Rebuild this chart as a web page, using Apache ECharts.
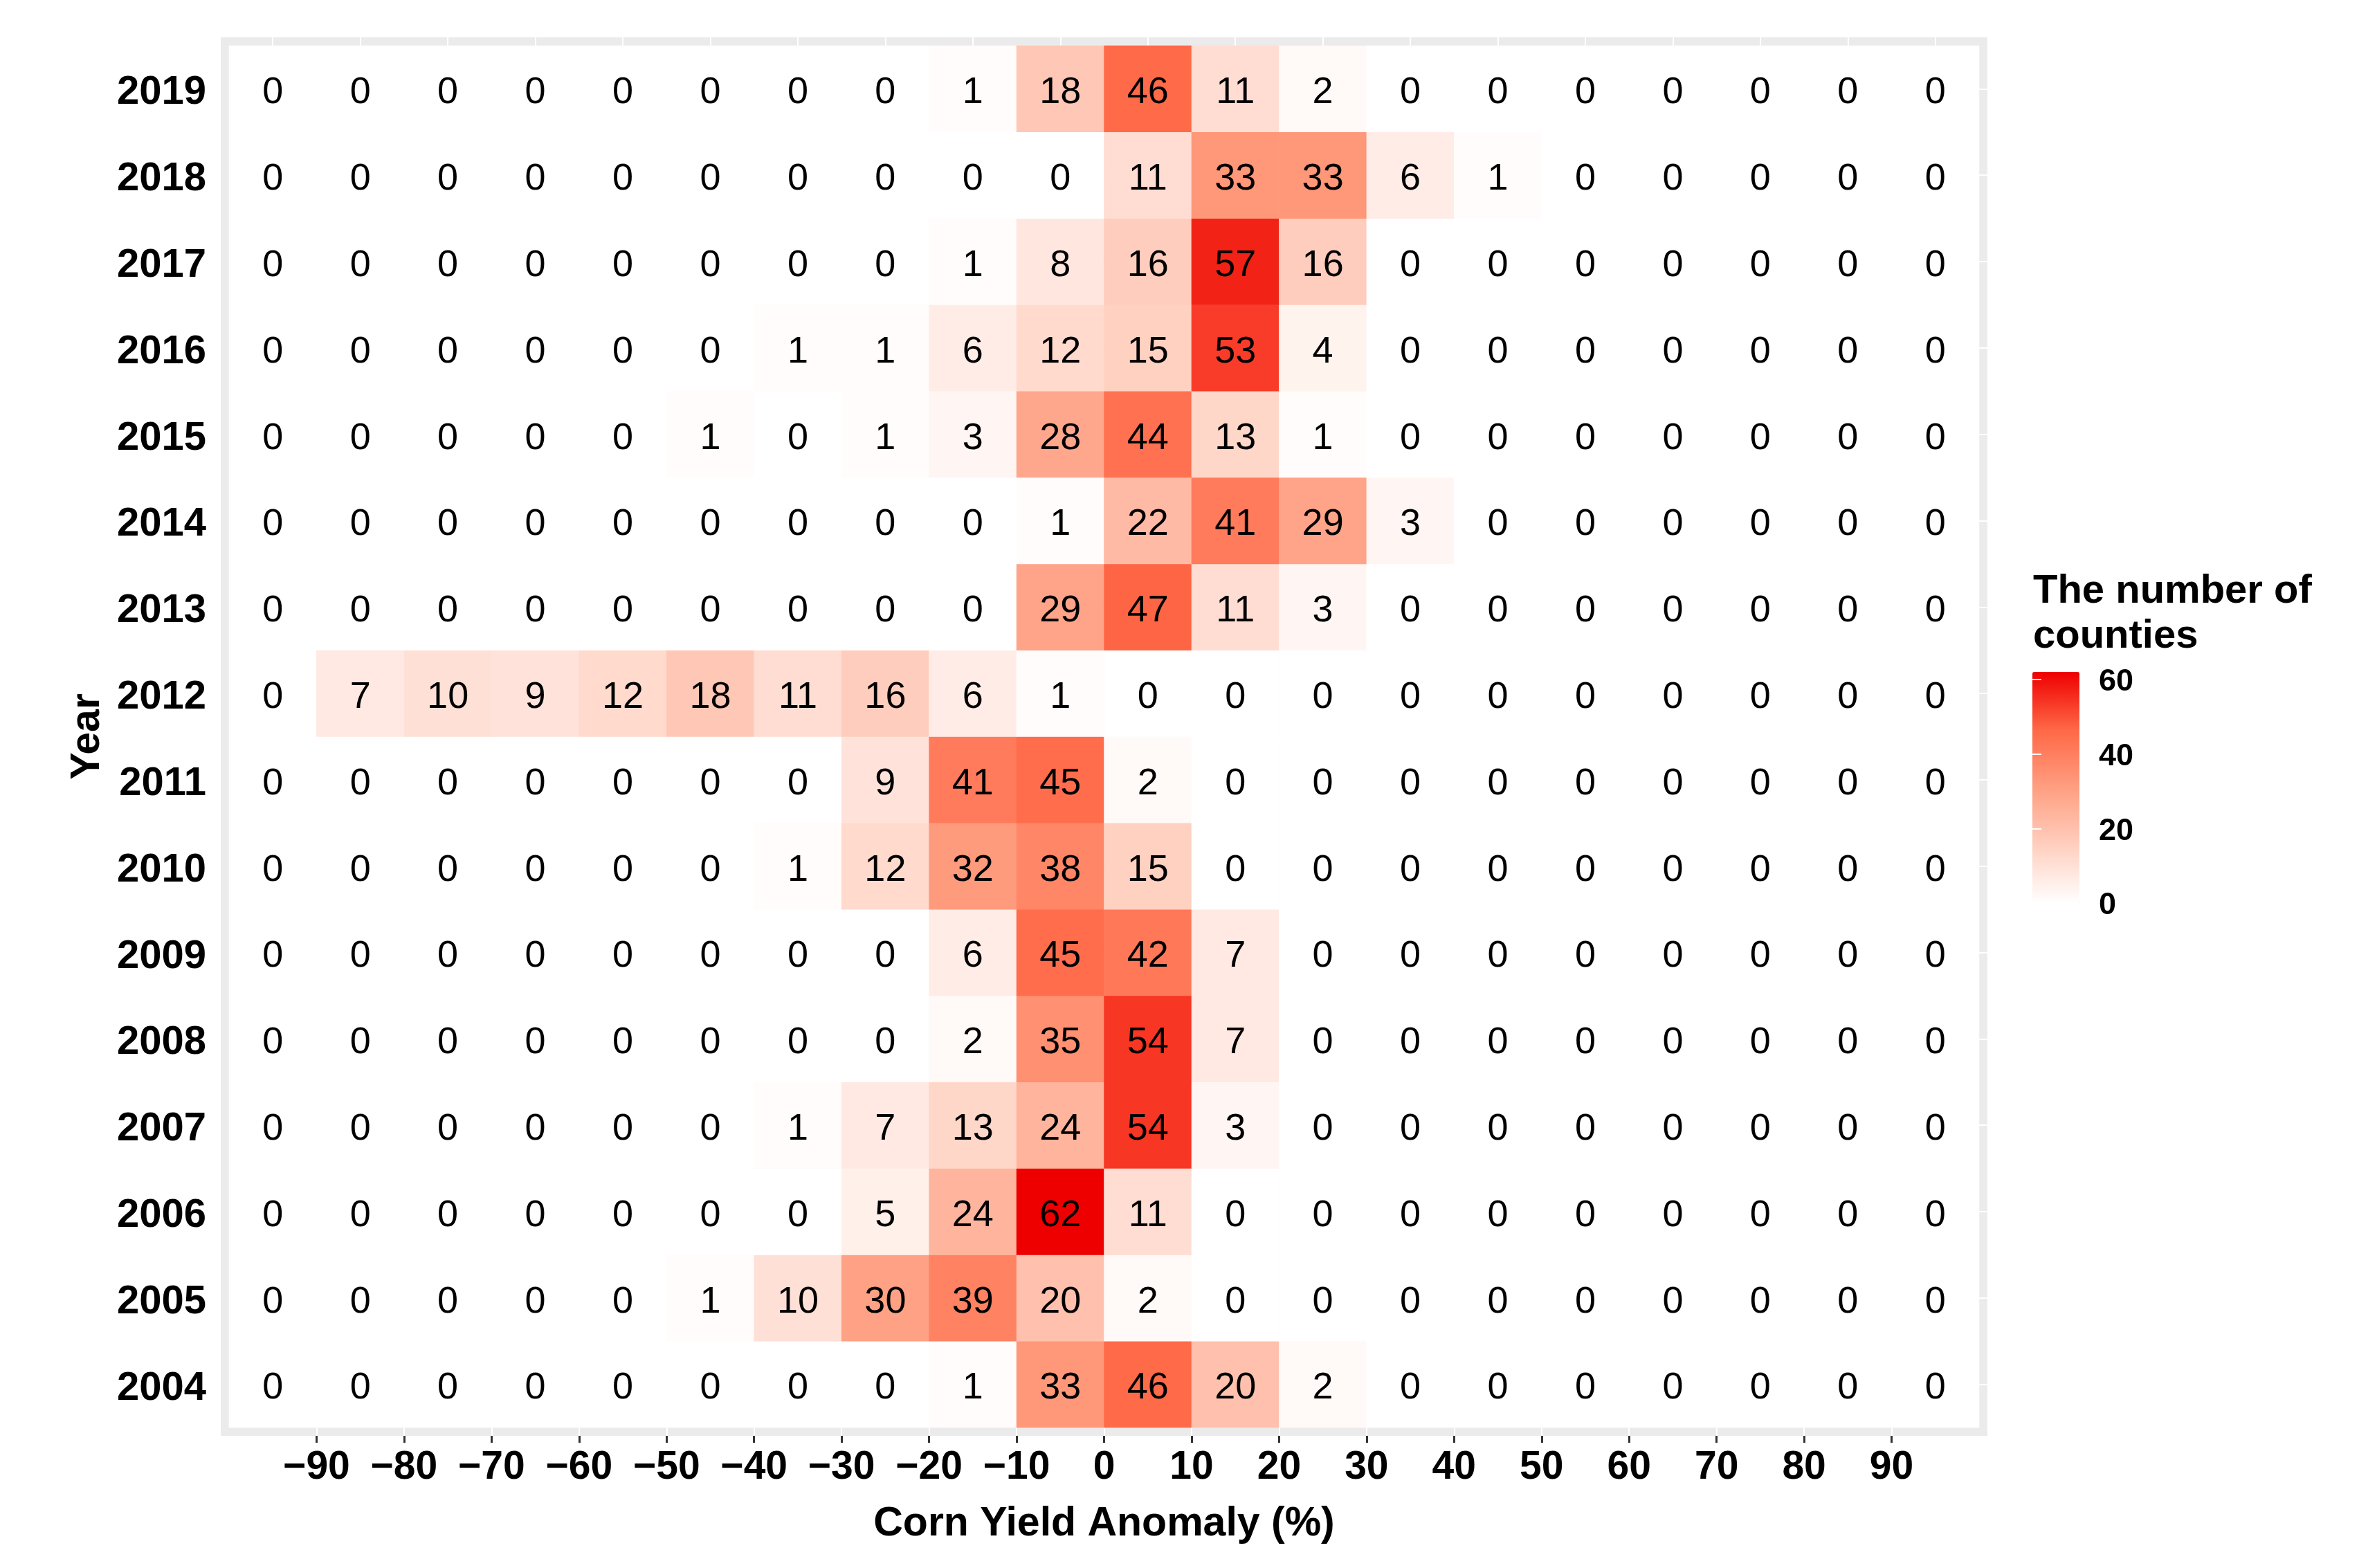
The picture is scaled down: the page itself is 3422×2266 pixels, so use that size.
<!DOCTYPE html>
<html>
<head>
<meta charset="utf-8">
<title>Corn yield anomaly by year</title>
<script src="https://cdn.jsdelivr.net/npm/echarts@6/dist/echarts.min.js"></script>
<style>
  html, body { margin: 0; padding: 0; background: #fff; }
  #main { width: 3422px; height: 2266px; }
</style>
</head>
<body>
<div id="main"></div>
<script>
// bin centres of the anomaly classes (%), one column each
const binCenters = [-95, -85, -75, -65, -55, -45, -35, -25, -15, -5, 5, 15, 25, 35, 45, 55, 65, 75, 85, 95];
const xTicks = [-90, -80, -70, -60, -50, -40, -30, -20, -10, 0, 10, 20, 30, 40, 50, 60, 70, 80, 90];
const years = ['2004', '2005', '2006', '2007', '2008', '2009', '2010', '2011',
               '2012', '2013', '2014', '2015', '2016', '2017', '2018', '2019'];
const legendTicks = [0, 20, 40, 60];

// number of counties per anomaly class
const row2004 = [0, 0, 0, 0, 0, 0, 0, 0, 1, 33, 46, 20, 2, 0, 0, 0, 0, 0, 0, 0];
const row2005 = [0, 0, 0, 0, 0, 1, 10, 30, 39, 20, 2, 0, 0, 0, 0, 0, 0, 0, 0, 0];
const row2006 = [0, 0, 0, 0, 0, 0, 0, 5, 24, 62, 11, 0, 0, 0, 0, 0, 0, 0, 0, 0];
const row2007 = [0, 0, 0, 0, 0, 0, 1, 7, 13, 24, 54, 3, 0, 0, 0, 0, 0, 0, 0, 0];
const row2008 = [0, 0, 0, 0, 0, 0, 0, 0, 2, 35, 54, 7, 0, 0, 0, 0, 0, 0, 0, 0];
const row2009 = [0, 0, 0, 0, 0, 0, 0, 0, 6, 45, 42, 7, 0, 0, 0, 0, 0, 0, 0, 0];
const row2010 = [0, 0, 0, 0, 0, 0, 1, 12, 32, 38, 15, 0, 0, 0, 0, 0, 0, 0, 0, 0];
const row2011 = [0, 0, 0, 0, 0, 0, 0, 9, 41, 45, 2, 0, 0, 0, 0, 0, 0, 0, 0, 0];
const row2012 = [0, 7, 10, 9, 12, 18, 11, 16, 6, 1, 0, 0, 0, 0, 0, 0, 0, 0, 0, 0];
const row2013 = [0, 0, 0, 0, 0, 0, 0, 0, 0, 29, 47, 11, 3, 0, 0, 0, 0, 0, 0, 0];
const row2014 = [0, 0, 0, 0, 0, 0, 0, 0, 0, 1, 22, 41, 29, 3, 0, 0, 0, 0, 0, 0];
const row2015 = [0, 0, 0, 0, 0, 1, 0, 1, 3, 28, 44, 13, 1, 0, 0, 0, 0, 0, 0, 0];
const row2016 = [0, 0, 0, 0, 0, 0, 1, 1, 6, 12, 15, 53, 4, 0, 0, 0, 0, 0, 0, 0];
const row2017 = [0, 0, 0, 0, 0, 0, 0, 0, 1, 8, 16, 57, 16, 0, 0, 0, 0, 0, 0, 0];
const row2018 = [0, 0, 0, 0, 0, 0, 0, 0, 0, 0, 11, 33, 33, 6, 1, 0, 0, 0, 0, 0];
const row2019 = [0, 0, 0, 0, 0, 0, 0, 0, 1, 18, 46, 11, 2, 0, 0, 0, 0, 0, 0, 0];

const rows = [row2004, row2005, row2006, row2007, row2008, row2009, row2010, row2011,
              row2012, row2013, row2014, row2015, row2016, row2017, row2018, row2019];

// heatmap wants [x, y, value]
const cells = [];
rows.forEach((row, yi) => {
  row.forEach((v, xi) => {
    cells.push([xi, yi, v]);
  });
});

const FONT = '"Liberation Sans", Arial, sans-serif';
const FRAME = '#EBEBEB';
const minus = (v) => (v < 0 ? '\u2212' + Math.abs(v) : String(v));

const chart = echarts.init(document.getElementById('main'));

chart.setOption({
  backgroundColor: '#fff',
  animation: false,
  textStyle: { fontFamily: FONT },
  title: {
    text: 'The number of\ncounties',
    left: 2938,
    top: 822,
    padding: 0,
    textStyle: { fontFamily: FONT, fontSize: 58, fontWeight: 'bold', lineHeight: 65, color: '#000' }
  },
  grid: [
    {
      // tile panel, grey ggplot frame round it
      left: 331, top: 66, width: 2529, height: 1997,
      show: true,
      backgroundColor: FRAME,
      borderColor: FRAME,
      borderWidth: 24
    },
    {
      // colour bar
      left: 2937, top: 971, width: 68, height: 334,
      show: false
    }
  ],
  xAxis: [
    {
      // categories for the tiles, white notches on top frame
      type: 'category',
      gridIndex: 0,
      data: binCenters,
      position: 'top',
      axisLine: { show: false },
      axisTick: { show: true, alignWithLabel: true, length: 12, lineStyle: { color: '#fff', width: 2 } },
      axisLabel: { show: false },
      splitLine: { show: false }
    },
    {
      // tick labels -90 .. 90
      type: 'value',
      gridIndex: 0,
      min: -100, max: 100, interval: 10,
      position: 'bottom',
      offset: 12,
      axisLine: { show: false },
      axisTick: { show: true, length: 10, customValues: xTicks, lineStyle: { color: '#333', width: 3 } },
      axisLabel: {
        customValues: xTicks,
        formatter: (v) => (Math.abs(v) >= 100 ? '' : minus(v)),
        fontFamily: FONT, fontSize: 57, fontWeight: 'bold', color: '#000', margin: 18
      },
      splitLine: { show: false },
      name: 'Corn Yield Anomaly (%)',
      nameLocation: 'middle',
      nameGap: 98,
      nameTextStyle: { fontFamily: FONT, fontSize: 59, fontWeight: 'bold', color: '#000' }
    },
    {
      // white notches in the bottom frame
      type: 'value',
      gridIndex: 0,
      min: -100, max: 100, interval: 10,
      position: 'bottom',
      axisLine: { show: false },
      axisTick: { show: true, length: 12, customValues: xTicks, lineStyle: { color: '#fff', width: 2 } },
      axisLabel: { show: false },
      splitLine: { show: false }
    },
    {
      type: 'value',
      gridIndex: 1,
      show: false
    }
  ],
  yAxis: [
    {
      type: 'category',
      gridIndex: 0,
      data: years,
      position: 'left',
      offset: 12,
      axisLine: { show: false },
      axisTick: { show: true, alignWithLabel: true, length: 10, lineStyle: { color: '#333', width: 3 } },
      axisLabel: {
        fontFamily: FONT, fontSize: 58, fontWeight: 'bold', color: '#000', margin: 21,
        verticalAlign: 'top', lineHeight: 12
      },
      name: 'Year',
      nameLocation: 'middle',
      nameGap: 163,
      nameTextStyle: { fontFamily: FONT, fontSize: 59, fontWeight: 'bold', color: '#000' }
    },
    {
      type: 'category',
      gridIndex: 0,
      data: years,
      position: 'left',
      axisLine: { show: false },
      axisTick: { show: true, alignWithLabel: true, length: 12, lineStyle: { color: '#fff', width: 2 } },
      axisLabel: { show: false }
    },
    {
      type: 'category',
      gridIndex: 0,
      data: years,
      position: 'right',
      axisLine: { show: false },
      axisTick: { show: true, alignWithLabel: true, length: 12, lineStyle: { color: '#fff', width: 2 } },
      axisLabel: { show: false }
    },
    {
      // colour bar scale
      type: 'value',
      gridIndex: 1,
      min: 0, max: 62, interval: 20,
      position: 'right',
      z: 10,
      axisLine: { show: false },
      axisTick: { show: true, inside: true, length: 13, customValues: legendTicks, lineStyle: { color: '#fff', width: 2 } },
      axisLabel: {
        customValues: legendTicks,
        formatter: (v) => (v % 20 === 0 ? String(v) : ''),
        fontFamily: FONT, fontSize: 45, fontWeight: 'bold', color: '#000', margin: 28,
        verticalAlign: 'top', lineHeight: 8
      },
      splitLine: { show: false }
    },
    {
      type: 'value',
      gridIndex: 1,
      min: 0, max: 62, interval: 20,
      position: 'left',
      z: 10,
      axisLine: { show: false },
      axisTick: { show: true, inside: true, length: 13, customValues: legendTicks, lineStyle: { color: '#fff', width: 2 } },
      axisLabel: { show: false },
      splitLine: { show: false }
    }
  ],
  visualMap: {
    type: 'continuous',
    seriesIndex: 0,
    min: 0,
    max: 62,
    orient: 'vertical',
    left: 2937,
    top: 971,
    padding: 0,
    itemWidth: 68,
    itemHeight: 334,
    calculable: false,
    hoverLink: false,
    inRange: { color: ['#FFFFFF', '#FFCFBF', '#FF9E81', '#FF6846', '#EE0000'] }
  },
  series: [
    {
      type: 'heatmap',
      xAxisIndex: 0,
      yAxisIndex: 0,
      data: cells,
      label: {
        show: true,
        formatter: (p) => String(p.value[2]),
        offset: [0, 6],
        fontFamily: FONT,
        fontSize: 54,
        color: '#000'
      },
      itemStyle: { borderWidth: 0 },
      emphasis: { disabled: true }
    }
  ]
});
</script>
</body>
</html>
